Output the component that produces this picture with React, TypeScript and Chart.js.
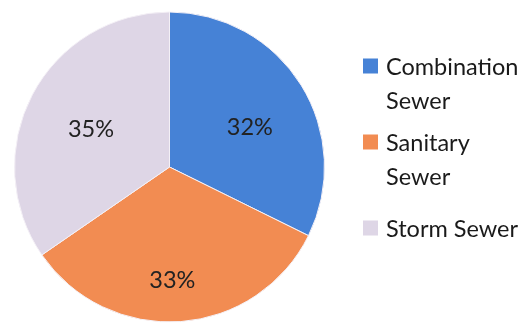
import React, { useEffect, useRef } from "react";
import { Chart, registerables } from "chart.js";

Chart.register(...registerables);

const categories: string[][] = [["Combination", "Sewer"], ["Sanitary", "Sewer"], ["Storm Sewer"]];
const shares: number[] = [32.3, 33.1, 34.6];
const sliceColors: string[] = ["#4682D6", "#F28C52", "#DED6E6"];

// label placement styling (radial factor and angular nudge in degrees)
const labelRadial: number[] = [0.58, 0.726, 0.564];
const labelNudge: number[] = [5.2, 2.7, -1.6];

const FONT = "Lato, 'Open Sans', sans-serif";

const pctLabels = {
  id: "pctLabels",
  afterDatasetsDraw(chart: any) {
    const ctx = chart.ctx;
    const meta = chart.getDatasetMeta(0);
    const data = chart.data.datasets[0].data as number[];
    const total = data.reduce((a, b) => a + b, 0);
    ctx.save();
    ctx.fillStyle = "#222222";
    ctx.font = `23.5px ${FONT}`;
    ctx.textAlign = "center";
    ctx.textBaseline = "alphabetic";
    meta.data.forEach((arc: any, i: number) => {
      const mid = (arc.startAngle + arc.endAngle) / 2 + (labelNudge[i] * Math.PI) / 180;
      const r = arc.outerRadius * labelRadial[i];
      const x = arc.x + Math.cos(mid) * r;
      const y = arc.y + Math.sin(mid) * r;
      const txt = Math.round((data[i] / total) * 100) + "%";
      ctx.fillText(txt, x, y + 8.5);
    });
    ctx.restore();
  },
};

const sideLegend = {
  id: "sideLegend",
  afterDraw(chart: any) {
    const ctx = chart.ctx;
    const baselines = [75, 151, 237];
    const lineH = 34;
    ctx.save();
    ctx.font = `23.5px ${FONT}`;
    ctx.textAlign = "left";
    ctx.textBaseline = "alphabetic";
    categories.forEach((lines, i) => {
      const b = baselines[i];
      ctx.fillStyle = sliceColors[i];
      ctx.fillRect(363, b - 16.5, 15, 15);
      ctx.fillStyle = "#1a1a1a";
      lines.forEach((ln, j) => {
        ctx.fillText(ln, 386, b + j * lineH);
      });
    });
    ctx.restore();
  },
};

export default function App() {
  const ref = useRef<HTMLCanvasElement>(null);
  useEffect(() => {
    if (!ref.current) return;
    const chart = new Chart(ref.current, {
      type: "pie",
      data: {
        labels: categories.map((c) => c.join(" ")),
        datasets: [
          {
            data: shares,
            backgroundColor: sliceColors,
            borderColor: "#F4F0F6",
            borderWidth: 1,
          },
        ],
      },
      options: {
        responsive: false,
        animation: false,
        radius: 155,
        layout: { padding: { left: 14, top: 12, right: 203, bottom: 4 } },
        plugins: {
          legend: { display: false },
          tooltip: { enabled: false },
        },
      } as any,
      plugins: [pctLabels, sideLegend],
    });
    return () => chart.destroy();
  }, []);
  return (
    <div style={{ position: "absolute", left: 0, top: 0, width: 528, height: 326, background: "#fff" }}>
      <canvas ref={ref} width={528} height={326} />
    </div>
  );
}
